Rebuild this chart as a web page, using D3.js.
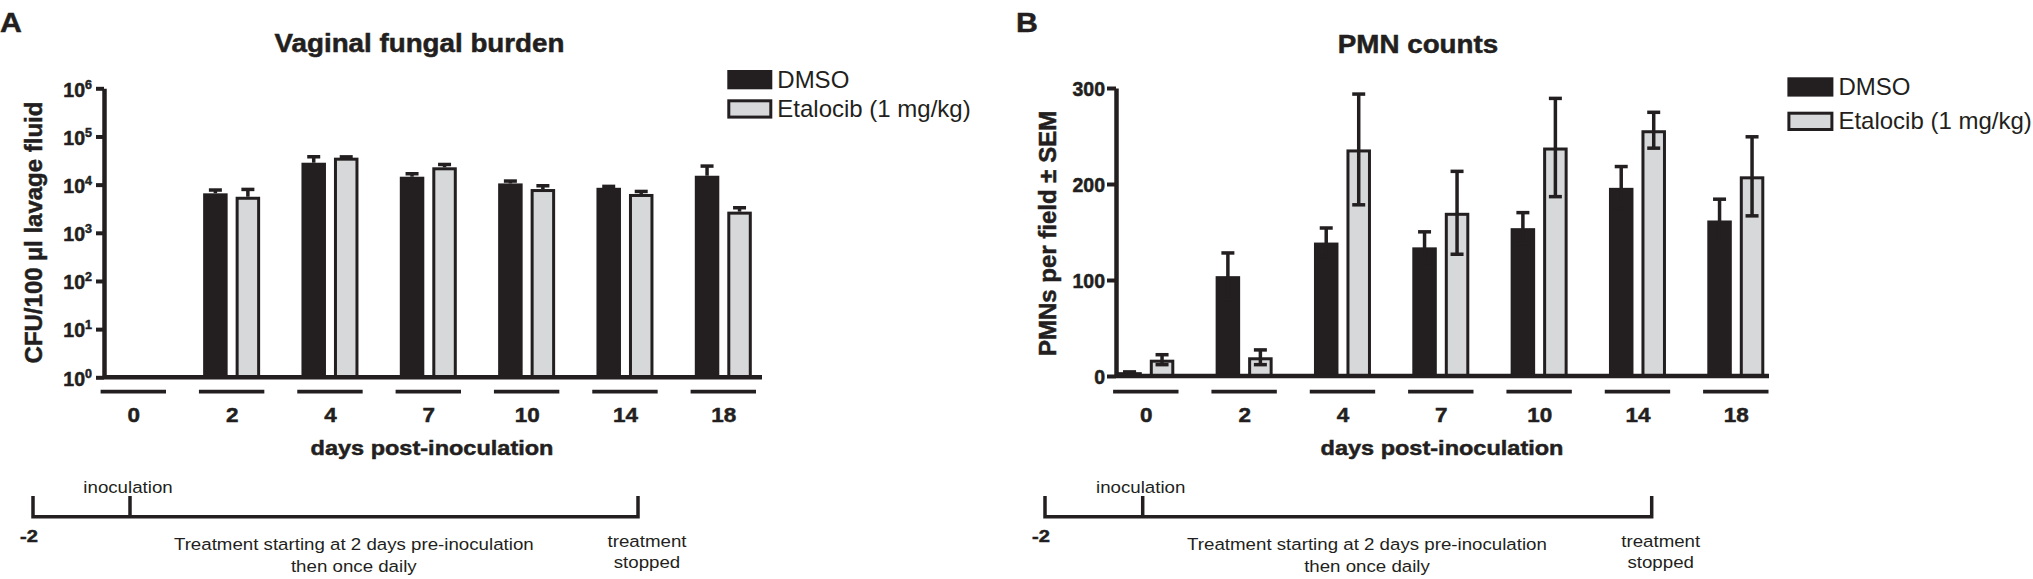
<!DOCTYPE html>
<html><head><meta charset="utf-8">
<script src="https://cdn.jsdelivr.net/npm/d3@7"></script>
<style>body{margin:0;background:#fff} svg{display:block}</style>
</head><body><svg id="c" width="2033" height="579"></svg>
<script>
// ---------- data ----------
const days = ["0","2","4","7","10","14","18"];
const seriesNames = ["DMSO","Etalocib (1 mg/kg)"];
// Panel A: CFU / 100 µl lavage fluid (day 0: none detected)
const cfuDMSO    = [null, 6600, 28500, 14600, 10600, 8600, 15300];
const cfuDMSOErr = [null, 1800, 12700, 3700, 2300, 1400, 11100];
const cfuEta     = [null, 5600, 36300, 22900, 8100, 6400, 2750];
const cfuEtaErr  = [null, 3050, 4700, 5600, 2200, 1450, 850];
const logTicks   = [1, 10, 100, 1000, 10000, 100000, 1000000];
// Panel B: PMNs per field ± SEM
const pmnDMSO    = [4, 104, 139, 134, 154, 196, 162];
const pmnDMSOSem = [1.7, 26, 17, 18, 18, 24, 24];
const pmnEta     = [17, 19.5, 236, 170, 238, 256, 208];
const pmnEtaSem  = [7, 9.5, 59.5, 45, 53, 20.5, 43];
const pmnTicks   = [0, 100, 200, 300];

// ---------- style ----------
const INK = "#231f20", GREY = "#d6d8d9";
const FONT = "'Liberation Sans', Arial, Helvetica, sans-serif";
const svg = d3.select("#c");

function txt(g, x, y, s, o) {
  const t = g.append("text")
    .attr("transform", `translate(${x},${y}) scale(${o.sx || 1},1)` + (o.rot ? ` rotate(${o.rot})` : ""))
    .attr("font-family", FONT).attr("font-size", o.size)
    .attr("font-weight", o.weight || "normal")
    .attr("text-anchor", o.anchor || "middle")
    .attr("fill", INK).text(s);
  if (o.weight === "bold") t.attr("stroke", INK).attr("stroke-width", 0.5);
  return t;
}

function panel(cfg) {
  const g = svg.append("g");
  const x = d3.scalePoint().domain(days).range(cfg.xRange);
  const sub = d3.scaleBand().domain(seriesNames).range([-28.5, 28.5]).paddingInner(0.246);
  const y = cfg.y;
  const base = y.range()[0];
  const bw = sub.bandwidth();
  const rows = days.map((d, i) => ({day: d, v: [cfg.d1[i], cfg.d2[i]], e: [cfg.e1[i], cfg.e2[i]]}));

  // bars
  rows.forEach(r => {
    seriesNames.forEach((s, k) => {
      const v = r.v[k];
      if (v == null) return;
      const x0 = x(r.day) + sub(s);
      const yt = y(v);
      if (k === 0) {
        g.append("rect").attr("x", x0).attr("y", yt).attr("width", bw).attr("height", base - yt).attr("fill", INK);
      } else {
        g.append("rect").attr("x", x0 + 1.5).attr("y", yt + 1.5).attr("width", bw - 3).attr("height", base - yt - 1.5)
          .attr("fill", GREY).attr("stroke", INK).attr("stroke-width", 3);
      }
    });
  });
  // error bars
  rows.forEach(r => {
    seriesNames.forEach((s, k) => {
      const v = r.v[k], e = r.e[k];
      if (v == null) return;
      const cx = x(r.day) + sub(s) + bw / 2;
      const yTop = y(v + e) + 1.75;
      const yBot = cfg.both ? y(v - e) - 1.75 : y(v);
      g.append("line").attr("x1", cx).attr("x2", cx).attr("y1", yTop).attr("y2", yBot)
        .attr("stroke", INK).attr("stroke-width", 3.5);
      g.append("line").attr("x1", cx - 6.5).attr("x2", cx + 6.5).attr("y1", yTop).attr("y2", yTop)
        .attr("stroke", INK).attr("stroke-width", 3.5);
      if (cfg.both) {
        g.append("line").attr("x1", cx - 6.5).attr("x2", cx + 6.5).attr("y1", yBot).attr("y2", yBot)
          .attr("stroke", INK).attr("stroke-width", 3.5);
      }
    });
  });

  // baseline
  g.append("line").attr("x1", cfg.axisX).attr("x2", cfg.xEnd).attr("y1", base).attr("y2", base)
    .attr("stroke", INK).attr("stroke-width", 4.5);

  // y axis
  const ya = g.append("g").attr("transform", `translate(${cfg.axisX},0)`)
    .call(d3.axisLeft(y).tickValues(cfg.ticks).tickSize(cfg.tickLen).tickSizeOuter(0).tickPadding(cfg.tickPad)
      .tickFormat(cfg.log ? () => "" : d3.format("d")));
  ya.select(".domain").attr("stroke", INK).attr("stroke-width", 4.5);
  ya.selectAll(".tick line").attr("stroke", INK).attr("stroke-width", 4);
  ya.selectAll(".tick text").attr("font-family", FONT).attr("font-size", 19.5).attr("font-weight", "bold")
    .attr("fill", INK).attr("stroke", INK).attr("stroke-width", 0.5).attr("dy", "0.4em");
  if (cfg.log) {
    ya.selectAll(".tick text").each(function(d) {
      const t = d3.select(this);
      t.append("tspan").text("10");
      t.append("tspan").attr("font-size", 12.5).attr("dy", -8).text(String(Math.round(Math.log10(d))));
    });
  }

  // x category labels and segments
  const xa = g.append("g").attr("transform", `translate(0,${cfg.segY + 8.3})`)
    .call(d3.axisBottom(x).tickSize(0).tickPadding(7));
  xa.select(".domain").remove();
  xa.selectAll(".tick text").attr("font-family", FONT).attr("font-size", 21).attr("font-weight", "bold")
    .attr("fill", INK).attr("stroke", INK).attr("stroke-width", 0.5).attr("transform", "scale(1.07,1)");
  g.selectAll(null).data(days).join("line")
    .attr("x1", d => x(d) - 32.7).attr("x2", d => x(d) + 32.7)
    .attr("y1", cfg.segY).attr("y2", cfg.segY)
    .attr("stroke", INK).attr("stroke-width", 3.7);

  // texts
  txt(g, cfg.letter[0], 31.7, cfg.letter[2], {size: 28, weight: "bold", anchor: "start", sx: 1.08});
  txt(g, cfg.title[0], cfg.title[1], cfg.title[2], {size: 25, weight: "bold", sx: 1.11});
  txt(g, cfg.ylab[0], cfg.ylab[1], cfg.ylab[2], {size: 24, weight: "bold", rot: -90});
  txt(g, cfg.xlab[0], 455, "days post-inoculation", {size: 21, weight: "bold", sx: 1.12});

  // legend
  const L = cfg.legend;
  g.append("rect").attr("x", L.x).attr("y", L.y[0]).attr("width", L.w).attr("height", 19.3).attr("fill", INK);
  g.append("rect").attr("x", L.x + 1.5).attr("y", L.y[1] + 1.5).attr("width", L.w - 3).attr("height", 16.3)
    .attr("fill", GREY).attr("stroke", INK).attr("stroke-width", 3);
  seriesNames.forEach((s, k) => txt(g, L.tx, L.y[k] + 17.6, s, {size: 24, anchor: "start"}));

  // treatment timeline
  const T = cfg.tl;
  g.append("path").attr("d", `M${T[0]},496 V516.7 H${T[2]} V496`).attr("fill", "none")
    .attr("stroke", INK).attr("stroke-width", 3.5);
  g.append("line").attr("x1", T[1]).attr("x2", T[1]).attr("y1", 496).attr("y2", 516.7)
    .attr("stroke", INK).attr("stroke-width", 3.5);
  txt(g, T[0] - 4, 541.7, "-2", {size: 17, weight: "bold", sx: 1.18});
  txt(g, T[1] - 2, 493.3, "inoculation", {size: 17, sx: 1.1});
  txt(g, T[3], 550, "Treatment starting at 2 days pre-inoculation", {size: 17, sx: 1.1});
  txt(g, T[3], 571.7, "then once daily", {size: 17, sx: 1.1});
  txt(g, T[2] + 9, 546.7, "treatment", {size: 17, sx: 1.1});
  txt(g, T[2] + 9, 568, "stopped", {size: 17, sx: 1.1});
}

panel({
  log: true, both: false,
  d1: cfuDMSO, e1: cfuDMSOErr, d2: cfuEta, e2: cfuEtaErr,
  y: d3.scaleLog().domain([1, 1e6]).range([377.3, 88.3]),
  ticks: logTicks, tickLen: 8, tickPad: 4,
  axisX: 104, xEnd: 762, xRange: [133.3, 723.3], segY: 391.7,
  letter: [0, 0, "A"], title: [419.5, 52, "Vaginal fungal burden"],
  ylab: [42, 232.5, "CFU/100 µl lavage fluid"], xlab: [432],
  legend: {x: 727.3, w: 45, y: [70, 99.3], tx: 777.3},
  tl: [33, 130, 638, 353.8]
});
panel({
  log: false, both: true,
  d1: pmnDMSO, e1: pmnDMSOSem, d2: pmnEta, e2: pmnEtaSem,
  y: d3.scaleLinear().domain([0, 300]).range([376, 88]),
  ticks: pmnTicks, tickLen: 9, tickPad: 2,
  axisX: 1116, xEnd: 1769, xRange: [1145.8, 1735.8], segY: 391.7,
  letter: [1016, 0, "B"], title: [1418, 52.7, "PMN counts"],
  ylab: [1056, 233.4, "PMNs per field ± SEM"], xlab: [1442],
  legend: {x: 1787.4, w: 46, y: [77.3, 111.7], tx: 1838.4},
  tl: [1045, 1142.7, 1651.7, 1367]
});
</script></body></html>
